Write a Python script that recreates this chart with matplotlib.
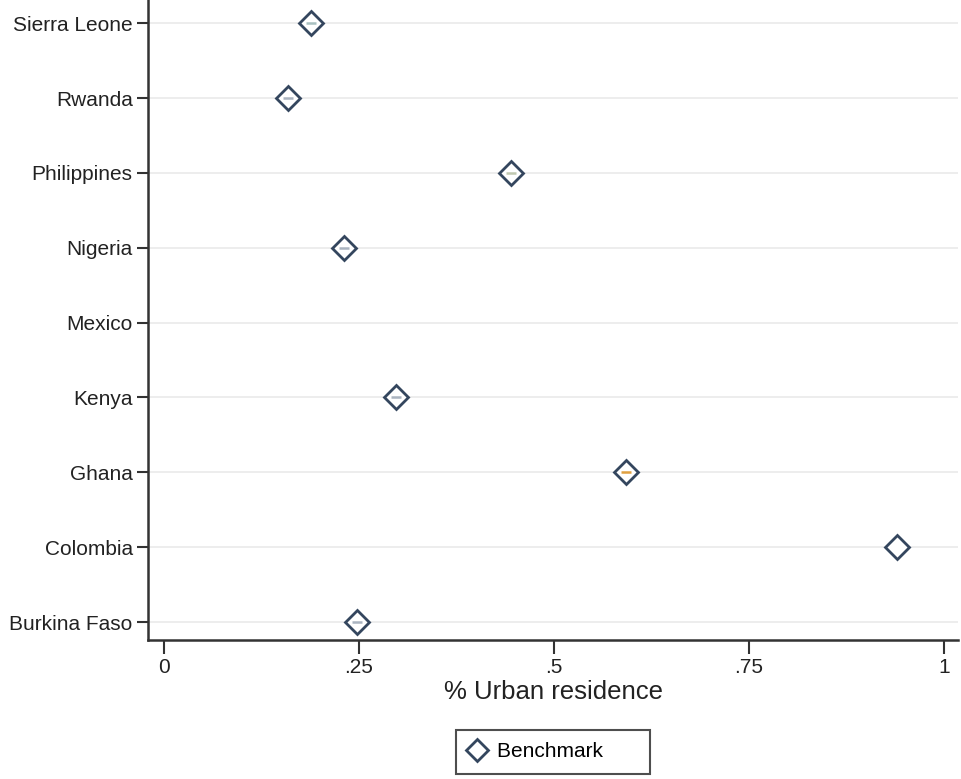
import numpy as np
import matplotlib
matplotlib.use("Agg")
import matplotlib.pyplot as plt

plt.rcParams['font.family'] = ['Liberation Sans', 'DejaVu Sans']

countries = ["Burkina Faso", "Colombia", "Ghana", "Kenya", "Mexico",
             "Nigeria", "Philippines", "Rwanda", "Sierra Leone"]
urban = [0.247, 0.940, 0.592, 0.297, np.nan, 0.231, 0.445, 0.159, 0.188]
inner = ["#aab4c0", "#ffffff", "#e0a040", "#aab4c0", "#ffffff",
         "#aab4c0", "#c0c8b0", "#aab4c0", "#a8c0c0"]
xticks = [0, 0.25, 0.5, 0.75, 1]
xticklabels = ["0", ".25", ".5", ".75", "1"]

navy = "#34465e"

fig = plt.figure(figsize=(9.61, 7.79), dpi=100)
ax = fig.add_axes([148/961, 1-640/779, (958-148)/961, 640/779])

ypos = np.arange(len(countries))
for y in ypos:
    ax.axhline(y, color="#eaeaea", lw=1.2, zorder=0)

ax.plot(urban, ypos, linestyle="none", marker="D", markersize=12,
        markerfacecolor="white", markeredgecolor=navy, markeredgewidth=2.0,
        zorder=3, label="Benchmark")
for xv, yv, c in zip(urban, ypos, inner):
    if not np.isnan(xv):
        ax.plot([xv], [yv], linestyle="none", marker="_", markersize=7,
                markeredgecolor=c, markeredgewidth=1.8, zorder=4)

ax.set_xlim(-0.0205, 1.018)
ax.set_ylim(-0.24, 8.31)
ax.set_yticks(ypos)
ax.set_yticklabels(countries, fontsize=15, color="#222222")
ax.set_xticks(xticks)
ax.set_xticklabels(xticklabels, fontsize=15, color="#222222")
ax.set_xlabel("% Urban residence", fontsize=18.5, color="#222222", labelpad=2)

for s in ["top", "right"]:
    ax.spines[s].set_visible(False)
for s in ["left", "bottom"]:
    ax.spines[s].set_linewidth(1.8)
    ax.spines[s].set_color("#333333")
ax.tick_params(axis="y", length=8, width=1.5, color="#333333", pad=3)
ax.tick_params(axis="x", length=10, width=1.5, color="#333333", pad=3)

leg = ax.legend(loc="upper center", bbox_to_anchor=(0.5, -0.14), frameon=True,
                fancybox=False, fontsize=15, handlelength=0.8,
                borderpad=0.6, handletextpad=0.6, borderaxespad=0)
leg.get_frame().set_edgecolor("#222222")
leg.get_frame().set_linewidth(1.5)
leg.legend_handles[0].set_markersize(11)
leg.get_texts()[0].set_text("Benchmark      ")

fig.savefig("out.png", dpi=100)
